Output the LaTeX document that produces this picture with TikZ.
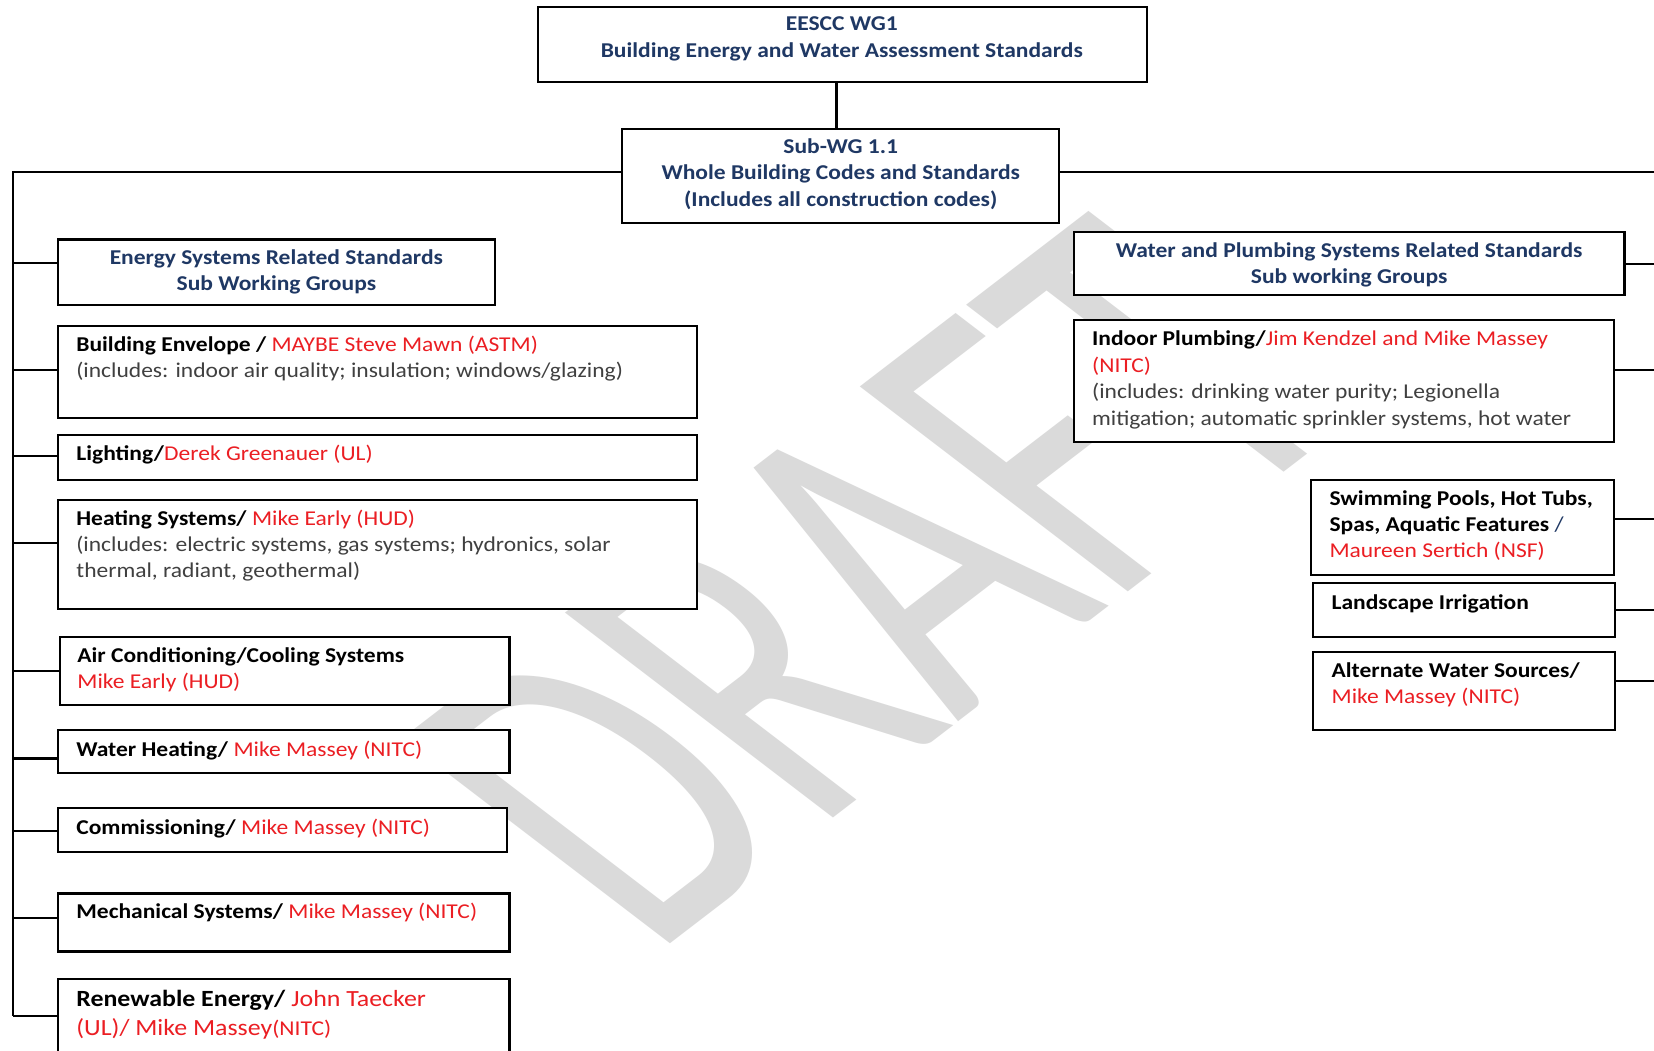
\documentclass[tikz,border=0pt]{standalone}
\usepackage{fontspec}
\setmainfont[FakeStretch=1.115]{Carlito}
\newfontfamily\wmfont{Carlito}
\usetikzlibrary{fit}
\definecolor{dblue}{RGB}{31,56,100}
\definecolor{nred}{RGB}{235,30,35}
\definecolor{dgray}{RGB}{64,64,64}
\definecolor{wm}{RGB}{218,218,218}
\tikzset{
  box/.style={draw=black, line width=1pt, fill=white, inner sep=0pt},
  title/.style={inner sep=0pt, align=center, text=dblue, font=\fontsize{10}{12.5}\selectfont\bfseries},
  txt/.style={inner sep=0pt, anchor=north west, align=left, text=black, font=\fontsize{10}{12.5}\selectfont},
  conn/.style={draw=black, line width=1pt},
}
\newcommand{\nm}[1]{{\color{nred}#1}}
\newcommand{\gr}[1]{{\color{dgray}#1}}
\begin{document}
\begin{tikzpicture}[x=0.5pt,y=-0.5pt]
\clip (0,0) rectangle (1568,996);
\fill[white] (0,0) rectangle (1568,996);
% watermark
\begin{scope}[shift={(827,553)}, cm={1.25,0.959,-1.98,1.514,(0,0)}, transform shape]
\node[text=wm, inner sep=0pt, font=\wmfont\fontsize{100}{100}\selectfont] (wmk) at (0,0) {DRAFT};
\end{scope}

% top boxes
\node[box, fit={(510,7) (1087,78)}] (top) {};
\node[title] (toptx) at (798,37) {EESCC WG1\\Building Energy and Water Assessment Standards};
\node[box, fit={(590,122) (1004,211)}] (sub) {};
\node[title] (subtx) at (797,165) {Sub-WG 1.1\\Whole Building Codes and Standards\\(Includes all construction codes)};

% left boxes
\node[box, fit={(55,227) (469,289)}] (es) {};
\node[title] (estx) at (262,258) {Energy Systems Related Standards\\Sub Working Groups};
\node[box, fit={(55,309) (661,396)}] (be) {};
\node[txt] (betx) at (72,315) {\strut\textbf{Building Envelope /} \nm{MAYBE Steve Mawn (ASTM)}\\\gr{(includes: indoor air quality; insulation; windows/glazing)}};
\node[box, fit={(55,412) (661,455)}] (li) {};
\node[txt] (litx) at (72,419) {\strut\textbf{Lighting/}\nm{Derek Greenauer (UL)}};
\node[box, fit={(55,474) (661,577)}] (he) {};
\node[txt] (hetx) at (72,480) {\strut\textbf{Heating Systems/} \nm{Mike Early (HUD)}\\\gr{(includes: electric systems, gas systems; hydronics, solar}\\\gr{thermal, radiant, geothermal)}};
\node[box, fit={(57,604) (483,668)}] (ac) {};
\node[txt] (actx) at (73,610) {\strut\textbf{Air Conditioning/Cooling Systems}\\\nm{Mike Early (HUD)}};
\node[box, fit={(55,692) (483,733)}] (wh) {};
\node[txt] (whtx) at (72,699) {\strut\textbf{Water Heating/} \nm{Mike Massey (NITC)}};
\node[box, fit={(55,766) (481,808)}] (co) {};
\node[txt] (cotx) at (72,773) {\strut\textbf{Commissioning/} \nm{Mike Massey (NITC)}};
\node[box, fit={(55,847) (483,902)}] (me) {};
\node[txt] (metx) at (72,853) {\strut\textbf{Mechanical Systems/} \nm{Mike Massey (NITC)}};
\node[box, fit={(55,928) (483,1020)}] (re) {};
\node[txt, font=\fontsize{11}{13.5}\selectfont] (retx) at (72,935) {\strut\textbf{Renewable Energy/} \nm{John Taecker}\\\nm{(UL)/ Mike Massey}{\color{nred}\fontsize{10}{13.5}\selectfont(NITC)}};

% right boxes
\node[box, fit={(1018,220) (1540,280)}] (wp) {};
\node[title] (wptx) at (1279,251) {Water and Plumbing Systems Related Standards\\Sub working Groups};
\node[box, fit={(1018,303) (1530,419)}] (ip) {};
\node[txt] (iptx) at (1035,310) {\strut\textbf{Indoor Plumbing/}\nm{Jim Kendzel and Mike Massey}\\\nm{(NITC)}\\\gr{(includes: drinking water purity; Legionella}\\\gr{mitigation; automatic sprinkler systems, hot water}};
\node[box, fit={(1243,455) (1530,545)}] (sw) {};
\node[txt] (swtx) at (1260,461) {\strut\textbf{Swimming Pools, Hot Tubs,}\\\textbf{Spas, Aquatic Features} {\color{dblue}/}\\\nm{Maureen Sertich (NSF)}};
\node[box, fit={(1245,553) (1531,604)}] (ls) {};
\node[txt] (lstx) at (1262,560) {\strut\textbf{Landscape Irrigation}};
\node[box, fit={(1245,618) (1531,692)}] (aw) {};
\node[txt] (awtx) at (1262,624) {\strut\textbf{Alternate Water Sources/}\\\nm{Mike Massey (NITC)}};

% connectors
\coordinate (tTop) at (12,163);
\coordinate (tBot) at (12,963);
\coordinate (rTop) at (1568,163);
\draw[conn] (top.south -| 793,0) -- (sub.north -| 793,0);
\draw[conn] (tTop -| sub.west) -- (tTop) -- (tBot);
\draw[conn] (rTop -| sub.east) -- (rTop);
\foreach \n/\y in {es/249, be/351, li/432, he/515, ac/636, wh/719, co/788, me/870, re/963}{
  \coordinate (s\n) at (12,\y);
  \draw[conn] (s\n) -- (s\n -| \n.west);
}
\foreach \n/\y in {wp/250, ip/351, sw/492, ls/578, aw/646}{
  \coordinate (r\n) at (1568,\y);
  \draw[conn] (r\n -| \n.east) -- (r\n);
}
\end{tikzpicture}
\end{document}
